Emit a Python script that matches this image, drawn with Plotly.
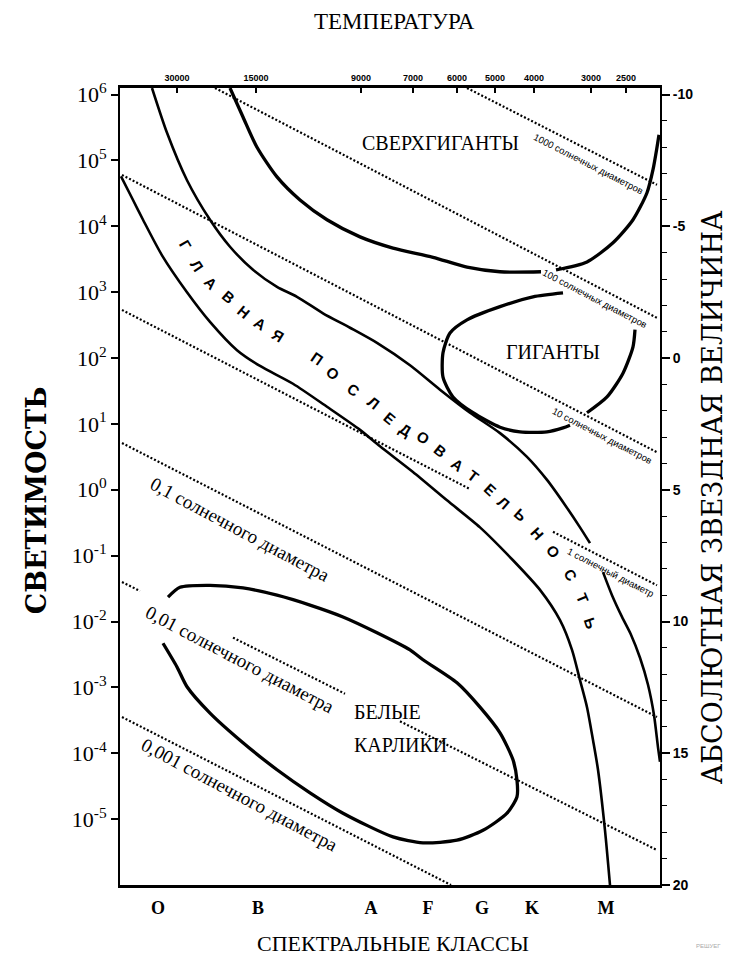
import math
import plotly.graph_objects as go

# ---------------- axes data ----------------
SPECTRAL_CLASSES = ["O", "B", "A", "F", "G", "K", "M"]
SPECTRAL_POS = [38, 138, 251, 308, 362, 412, 486]
TEMPERATURES = ["30000", "15000", "9000", "7000", "6000", "5000", "4000", "3000", "2500"]
TEMP_POS = [57, 136, 241, 293, 337, 375, 414, 471, 506]
LOG_L_TICKS = [-5, -4, -3, -2, -1, 0, 1, 2, 3, 4, 5, 6]
MAG_TICKS = [-10, -5, 0, 5, 10, 15, 20]
X_RANGE = [0, 540]
LOGL_RANGE = [-6, 6.1]

# ---------------- curves (x = spectral position, y = log10 L) ----------------
MS_UPPER_A_X = [32, 47, 67, 90, 110, 133, 157, 177, 203, 230, 257, 290, 320, 350, 380, 407, 427, 445, 460, 470]
MS_UPPER_A_L = [6.10, 5.42, 4.70, 4.10, 3.69, 3.34, 3.08, 2.93, 2.68, 2.46, 2.23, 1.89, 1.52, 1.17, 0.86, 0.50, 0.15, -0.23, -0.57, -0.81]
MS_UPPER_B_X = [483, 492, 502, 511, 520, 528, 534, 538, 540]
MS_UPPER_B_L = [-1.25, -1.60, -1.93, -2.20, -2.55, -2.96, -3.42, -3.91, -4.13]
MS_LOWER_X = [1, 12, 23, 42, 67, 90, 117, 140, 173, 207, 240, 260, 293, 327, 360, 393, 420, 440, 452, 460, 467, 473, 478, 485, 490]
MS_LOWER_L = [4.76, 4.43, 4.10, 3.56, 3.00, 2.55, 2.12, 1.88, 1.61, 1.26, 0.91, 0.66, 0.27, -0.16, -0.57, -1.07, -1.52, -1.98, -2.43, -2.89, -3.30, -3.80, -4.25, -5.17, -6.00]
SUPERGIANT_A_X = [110, 123, 137, 157, 180, 207, 240, 273, 313, 347, 380, 421]
SUPERGIANT_A_L = [6.10, 5.66, 5.20, 4.75, 4.40, 4.10, 3.84, 3.67, 3.53, 3.38, 3.31, 3.31]
SUPERGIANT_B_X = [436, 467, 493, 513, 527, 533, 537, 539]
SUPERGIANT_B_L = [3.34, 3.46, 3.75, 4.10, 4.51, 4.86, 5.20, 5.39]
GIANT_A_X = [443, 413, 380, 347, 330, 323, 323, 333, 353, 380, 400, 427, 443, 450]
GIANT_A_L = [2.99, 2.93, 2.78, 2.58, 2.38, 2.08, 1.71, 1.41, 1.17, 0.95, 0.88, 0.88, 0.94, 0.98]
GIANT_B_X = [467, 487, 503, 513, 515]
GIANT_B_L = [1.17, 1.41, 1.77, 2.17, 2.43]
DWARF_X = [48, 60, 90, 123, 157, 190, 223, 257, 290, 303, 337, 360, 380, 393, 397, 397, 387, 363, 337, 303, 273, 223, 190, 157, 123, 90, 67, 57, 43]
DWARF_L = [-1.63, -1.48, -1.45, -1.49, -1.60, -1.75, -1.93, -2.17, -2.43, -2.58, -2.93, -3.30, -3.69, -4.10, -4.41, -4.66, -4.91, -5.17, -5.32, -5.36, -5.27, -4.91, -4.60, -4.25, -3.84, -3.39, -2.99, -2.69, -2.33]

# ---------------- constant-radius lines ----------------
RADIUS_LABELS = ["1000 солнечных диаметров", "100 солнечных диаметров", "10 солнечных диаметров",
                 "1 солнечный диаметр", "0,1 солнечного диаметра", "0,01 солнечного диаметра",
                 "0,001 солнечного диаметра"]
RADIUS_X0 = [347, 95, 2, 2, 2, 2, 2]
RADIUS_L0 = [6.10, 6.10, 4.78, 2.73, 0.71, -1.40, -3.45]
RADIUS_X1 = [537, 537, 537, 537, 537, 537, 331]
RADIUS_L1 = [4.63, 2.61, 0.57, -1.45, -3.45, -5.47, -6.00]
RADIUS_VISIBLE = [[(347, 537)], [(95, 537)], [(2, 537)], [(2, 350), (433, 537)], [(2, 537)],
                  [(2, 20), (113, 225), (280, 537)], [(2, 331)]]
RADIUS_LABEL_X = [468, 475, 482, 491, 120, 120, 119]
RADIUS_LABEL_L = [4.96, 2.91, 0.83, -1.25, -0.60, -2.58, -4.63]

# region labels
REGION_TEXT = ["СВЕРХГИГАНТЫ", "ГИГАНТЫ"]
REGION_X = [320, 433]
REGION_L = [5.27, 2.09]
DWARF_TEXT = ["БЕЛЫЕ", "КАРЛИКИ"]
DWARF_TEXT_X = [232, 232]
DWARF_TEXT_L = [-3.37, -3.87]

MS_LETTERS = list("ГЛАВНАЯПОСЛЕДОВАТЕЛЬНОСТЬ")
MS_LETTER_X = [65, 77, 90, 108, 123, 140, 158, 197, 213, 233, 253, 270, 285, 303, 320, 337, 353, 370, 383, 400, 417, 433, 450, 462, 470]
MS_LETTER_L = [3.72, 3.41, 3.14, 2.93, 2.70, 2.53, 2.35, 2.00, 1.77, 1.52, 1.32, 1.09, 0.91, 0.79, 0.60, 0.38, 0.22, 0.00, -0.20, -0.38, -0.66, -0.94, -1.29, -1.64, -2.02]

# ---------------- figure ----------------
# the page body adds an 8px offset; the figure is sized to fit the 731x961 window
W, H = 723, 953
ML, MR, MT, MB = 112, 71, 80, 76
PX_PER_X = (W - ML - MR) / (X_RANGE[1] - X_RANGE[0])
PX_PER_L = (H - MT - MB) / (LOGL_RANGE[1] - LOGL_RANGE[0])

SERIF = "Liberation Serif, DejaVu Serif, serif"
WIDE_SERIF = "DejaVu Serif, Liberation Serif, serif"
SANS = "Liberation Sans, Arial, sans-serif"
NARROW = "Liberation Sans Narrow, Arial Narrow, Liberation Sans, sans-serif"

fig = go.Figure()

def curve(xs, ls, width=3):
    fig.add_trace(go.Scatter(x=xs, y=ls, mode="lines", hoverinfo="skip",
                             line=dict(color="black", width=width, shape="spline", smoothing=0.7)))

curve(MS_UPPER_A_X, MS_UPPER_A_L, 2.6)
curve(MS_UPPER_B_X, MS_UPPER_B_L, 2.6)
curve(MS_LOWER_X, MS_LOWER_L, 2.6)
curve(SUPERGIANT_A_X, SUPERGIANT_A_L, 3.3)
curve(SUPERGIANT_B_X, SUPERGIANT_B_L, 3.3)
curve(GIANT_A_X, GIANT_A_L, 3.3)
curve(GIANT_B_X, GIANT_B_L, 3.3)
curve(DWARF_X, DWARF_L, 3.3)

for i in range(len(RADIUS_LABELS)):
    x0, l0, x1, l1 = RADIUS_X0[i], RADIUS_L0[i], RADIUS_X1[i], RADIUS_L1[i]
    xs, ls = [], []
    for a, b in RADIUS_VISIBLE[i]:
        for xv in (a, b):
            xs.append(xv)
            ls.append(l0 + (l1 - l0) * (xv - x0) / (x1 - x0))
        xs.append(None)
        ls.append(None)
    fig.add_trace(go.Scatter(x=xs, y=ls, mode="lines", hoverinfo="skip",
                             line=dict(color="black", width=2.2, dash="2px,2px")))

# dummy trace to activate secondary axes
fig.add_trace(go.Scatter(x=[None], y=[None], xaxis="x2", yaxis="y2", mode="lines", hoverinfo="skip"))

ann = []
for i, lab in enumerate(RADIUS_LABELS):
    small = i < 4
    dx = (RADIUS_X1[i] - RADIUS_X0[i]) * PX_PER_X
    dy = (RADIUS_L0[i] - RADIUS_L1[i]) * PX_PER_L
    ang = math.degrees(math.atan2(dy, dx))
    ann.append(dict(x=RADIUS_LABEL_X[i], y=RADIUS_LABEL_L[i], text=lab, showarrow=False,
                    textangle=ang if small else ang + 1, xanchor="center", yanchor="middle",
                    font=dict(family=SANS if small else SERIF, size=9.5 if small else 19, color="black")))

for t, xv, lv in zip(REGION_TEXT, REGION_X, REGION_L):
    ann.append(dict(x=xv, y=lv, text=t, showarrow=False, xanchor="center", yanchor="middle",
                    font=dict(family=SERIF, size=20, color="black")))
for t, xv, lv in zip(DWARF_TEXT, DWARF_TEXT_X, DWARF_TEXT_L):
    ann.append(dict(x=xv, y=lv, text=t, showarrow=False, xanchor="left", yanchor="middle",
                    font=dict(family=SERIF, size=20, color="black")))

n = len(MS_LETTERS)
for i, ch in enumerate(MS_LETTERS):
    a = max(i - 1, 0)
    b = min(i + 1, n - 1)
    dx = (MS_LETTER_X[b] - MS_LETTER_X[a]) * PX_PER_X
    dy = (MS_LETTER_L[a] - MS_LETTER_L[b]) * PX_PER_L
    ang = math.degrees(math.atan2(dy, dx))
    ann.append(dict(x=MS_LETTER_X[i], y=MS_LETTER_L[i], text=ch, showarrow=False, textangle=ang,
                    xanchor="center", yanchor="middle",
                    font=dict(family=SANS, size=15, color="black", weight="bold")))

# axis titles
ann += [
    dict(xref="paper", yref="paper", x=0.509, y=1.083, text="ТЕМПЕРАТУРА", showarrow=False,
         xanchor="center", yanchor="middle", font=dict(family=SERIF, size=23, color="black")),
    dict(xref="paper", yref="paper", x=0.506, y=-0.073, text="СПЕКТРАЛЬНЫЕ КЛАССЫ", showarrow=False,
         xanchor="center", yanchor="middle", font=dict(family=SERIF, size=22, color="black")),
    dict(xref="paper", yref="paper", x=-0.155, y=0.483, text="СВЕТИМОСТЬ", showarrow=False, textangle=-90,
         xanchor="center", yanchor="middle",
         font=dict(family=WIDE_SERIF, size=27, color="black", weight="bold")),
    dict(xref="paper", yref="paper", x=1.097, y=0.487, text="АБСОЛЮТНАЯ ЗВЕЗДНАЯ ВЕЛИЧИНА", showarrow=False,
         textangle=-90, xanchor="center", yanchor="middle",
         font=dict(family=WIDE_SERIF, size=27, color="black")),
    dict(xref="paper", yref="paper", x=1.09, y=-0.077, text="РЕШУЕГ", showarrow=False,
         xanchor="center", yanchor="middle", font=dict(family=SANS, size=6, color="#aaaaaa")),
]

mag_range = [5 - 2.5 * LOGL_RANGE[0], 5 - 2.5 * LOGL_RANGE[1]]

fig.update_layout(
    width=W, height=H, margin=dict(l=ML, r=MR, t=MT, b=MB),
    paper_bgcolor="white", plot_bgcolor="white", showlegend=False,
    annotations=ann,
    xaxis=dict(range=X_RANGE, tickmode="array", tickvals=SPECTRAL_POS, ticktext=SPECTRAL_CLASSES,
               ticks="", showline=True, linewidth=3, linecolor="black", showgrid=False, zeroline=False,
               ticklabelstandoff=4,
               tickfont=dict(family=SERIF, size=18, color="black", weight="bold")),
    xaxis2=dict(range=X_RANGE, overlaying="x", side="top", anchor="y", tickmode="array",
                tickvals=TEMP_POS, ticktext=TEMPERATURES, ticks="inside", ticklen=5, tickwidth=1.5,
                tickcolor="black", showline=True, linewidth=3, linecolor="black", showgrid=False,
                zeroline=False, tickfont=dict(family=NARROW, size=9, color="black", weight="bold")),
    yaxis=dict(range=LOGL_RANGE, tickmode="array", tickvals=LOG_L_TICKS,
               ticktext=["10<sup>%d</sup>" % v for v in LOG_L_TICKS], ticks="outside", ticklen=7,
               tickwidth=1.5, tickcolor="black", showline=True, linewidth=2, linecolor="black",
               showgrid=False, zeroline=False, tickfont=dict(family=SERIF, size=22, color="black")),
    yaxis2=dict(range=mag_range, overlaying="y", side="right", anchor="x", tickmode="array",
                tickvals=MAG_TICKS, ticktext=["%d" % v for v in MAG_TICKS], ticks="outside", ticklen=8,
                tickwidth=1.5, tickcolor="black",
                minor=dict(tickmode="linear", tick0=0, dtick=1, ticks="outside", ticklen=5,
                           tickwidth=1.2, tickcolor="black"),
                showline=True, linewidth=2, linecolor="black", showgrid=False, zeroline=False,
                tickfont=dict(family=NARROW, size=14, color="black", weight="bold")),
)

fig.write_html("out.html")
